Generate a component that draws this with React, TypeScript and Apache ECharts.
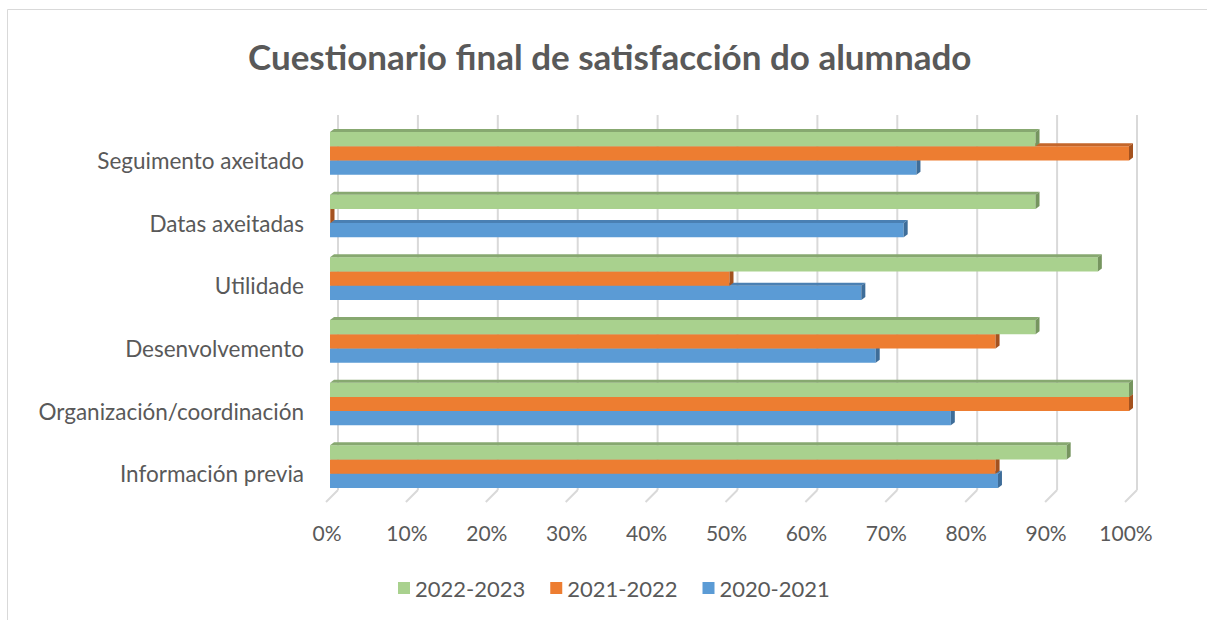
import React, { useEffect, useRef } from "react";
import * as echarts from "echarts";

const TITLE = "Cuestionario final de satisfacción do alumnado";
const CATEGORIES = [
  "Información previa",
  "Organización/coordinación",
  "Desenvolvemento",
  "Utilidade",
  "Datas axeitadas",
  "Seguimento axeitado",
];
const SERIES_NAMES = ["2020-2021", "2021-2022", "2022-2023"];
const V_2020_2021 = [83.6, 77.7, 68.3, 66.5, 71.8, 73.4];
const V_2021_2022 = [83.3, 100, 83.3, 50, 0, 100];
const V_2022_2023 = [92.2, 100, 88.3, 96.1, 88.3, 88.3];
const X_TICKS = [0, 10, 20, 30, 40, 50, 60, 70, 80, 90, 100];

const FRONT = ["#5B9BD5", "#ED7D31", "#A9D18E"];
const TOP = ["#4A80B3", "#C4662A", "#87A870"];
const SIDE = ["#3E6D99", "#A4521F", "#76955F"];

const FONT = "Lato, 'Open Sans', sans-serif";
const GRID_LEFT = 330;
const GRID_TOP = 122;
const GRID_W = 799;
const GRID_H = 376;

export default function App() {
  const ref = useRef<HTMLDivElement>(null);
  useEffect(() => {
    if (!ref.current) return;
    const chart = echarts.init(ref.current, undefined, { renderer: "svg" });
    const seriesValues = [V_2020_2021, V_2021_2022, V_2022_2023];
    const DX = 4;
    const DY = 3;

    const barSeries = seriesValues.map((vals, s) => ({
      name: SERIES_NAMES[s],
      type: "custom",
      xAxisIndex: 0,
      yAxisIndex: 0,
      itemStyle: { color: FRONT[s] },
      data: vals.map((v, i) => [v, i]),
      encode: { x: 0, y: 1 },
      z: 3 + s,
      renderItem: (params: any, api: any) => {
        const v = api.value(0);
        const c = api.value(1);
        const p0 = api.coord([0, c]);
        const p1 = api.coord([v, c]);
        const band = api.size([0, 1])[1];
        const barH = (band * 0.68) / 3;
        const pos = 2 - s; // green top, blue bottom
        const yTop = p0[1] - 1.5 * barH + pos * barH;
        const x0 = p0[0];
        const x1 = Math.max(p1[0], x0 + 0.5);
        return {
          type: "group",
          children: [
            {
              type: "rect",
              shape: { x: x0, y: yTop, width: x1 - x0, height: barH },
              style: { fill: FRONT[s] },
            },
            {
              type: "polygon",
              shape: {
                points: [
                  [x0, yTop],
                  [x0 + DX, yTop - DY],
                  [x1 + DX, yTop - DY],
                  [x1, yTop],
                ],
              },
              style: { fill: TOP[s] },
            },
            {
              type: "polygon",
              shape: {
                points: [
                  [x1, yTop],
                  [x1 + DX, yTop - DY],
                  [x1 + DX, yTop + barH - DY],
                  [x1, yTop + barH],
                ],
              },
              style: { fill: SIDE[s] },
            },
          ],
        };
      },
    }));

    const wallSeries = {
      name: "wall",
      type: "custom",
      silent: true,
      xAxisIndex: 0,
      yAxisIndex: 0,
      z: 1,
      data: X_TICKS.map((t) => [t, 0]),
      encode: { x: 0, y: 1 },
      renderItem: (params: any, api: any) => {
        const cs = params.coordSys;
        const x = api.coord([api.value(0), 0])[0];
        const top = cs.y - 7;
        const bottom = cs.y + cs.height - 8;
        return {
          type: "group",
          children: [
            {
              type: "line",
              shape: { x1: x + 8, y1: top, x2: x + 8, y2: bottom },
              style: { stroke: "#D9D9D9", lineWidth: 2 },
            },
            {
              type: "line",
              shape: { x1: x + 8, y1: bottom, x2: x - 4, y2: bottom + 12 },
              style: { stroke: "#D9D9D9", lineWidth: 2 },
            },
          ],
        };
      },
    };

    const textStyle = { fontFamily: FONT, fontSize: 21, color: "#595959" };

    chart.setOption({
      animation: false,
      backgroundColor: "#FFFFFF",
      title: {
        text: TITLE,
        left: 243,
        top: 33,
        textStyle: {
          fontFamily: FONT,
          fontSize: 35,
          fontWeight: "bold",
          color: "#595959",
        },
      },
      graphic: [
        {
          type: "rect",
          shape: { x: 7.5, y: 9.5, width: 1400, height: 800 },
          style: { fill: "none", stroke: "#D9D9D9", lineWidth: 1 },
          silent: true,
        },
      ],
      legend: {
        data: [SERIES_NAMES[2], SERIES_NAMES[1], SERIES_NAMES[0]],
        bottom: 16,
        left: 393,
        icon: "rect",
        itemWidth: 12,
        itemHeight: 12,
        itemGap: 25,
        textStyle: { ...textStyle, fontSize: 22 },
      },
      grid: [
        { left: GRID_LEFT, top: GRID_TOP, width: GRID_W, height: GRID_H },
        { left: GRID_LEFT, top: GRID_TOP + 7, width: GRID_W, height: GRID_H },
      ],
      xAxis: [
        {
          type: "value",
          gridIndex: 0,
          min: 0,
          max: 100,
          interval: 10,
          axisLine: { show: false },
          axisTick: { show: false },
          splitLine: { show: false },
          axisLabel: {
            formatter: "{value}%",
            margin: 24,
            ...textStyle,
            padding: [0, 6, 0, 0],
          },
        },
        {
          type: "value",
          gridIndex: 1,
          min: 0,
          max: 100,
          show: false,
        },
      ],
      yAxis: [
        {
          type: "category",
          gridIndex: 0,
          data: CATEGORIES,
          axisLine: { show: false },
          axisTick: { show: false },
          splitLine: { show: false },
          axisLabel: { show: false },
        },
        {
          type: "category",
          gridIndex: 1,
          data: CATEGORIES,
          axisLine: { show: false },
          axisTick: { show: false },
          splitLine: { show: false },
          axisLabel: { margin: 26, ...textStyle, fontSize: 22.5 },
        },
      ],
      series: [wallSeries, ...barSeries],
    });
    return () => chart.dispose();
  }, []);
  return (
    <div
      style={{ position: "fixed", left: 0, top: 0, width: 1207, height: 620 }}
    >
      <div ref={ref} style={{ width: 1207, height: 620 }} />
    </div>
  );
}
